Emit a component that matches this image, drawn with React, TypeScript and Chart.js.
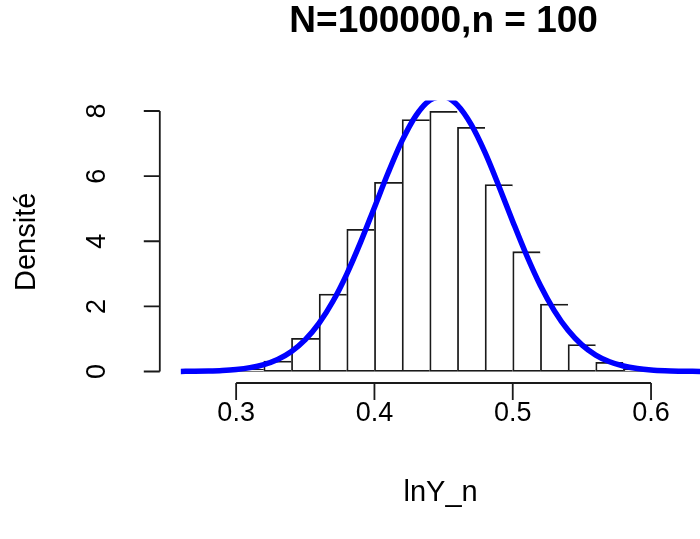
import { useEffect, useRef } from 'react';
import { Chart, registerables } from 'chart.js';

Chart.register(...registerables);

// Histogram bins (left edges) and their densities
const binStarts = [0.30, 0.32, 0.34, 0.36, 0.38, 0.40, 0.42, 0.44, 0.46, 0.48, 0.50, 0.52, 0.54, 0.56, 0.58];
const densities = [0.07, 0.32, 1.02, 2.38, 4.37, 5.81, 7.74, 7.99, 7.50, 5.74, 3.68, 2.07, 0.83, 0.28, 0.07];
const binWidth = 0.02;

// Density curve
const curveX = [0.26, 0.27, 0.28, 0.29, 0.30, 0.31, 0.32, 0.33, 0.34, 0.35, 0.36, 0.37, 0.38, 0.39, 0.40, 0.41, 0.42, 0.43, 0.44, 0.45, 0.46, 0.47, 0.48, 0.49, 0.50, 0.51, 0.52, 0.53, 0.54, 0.55, 0.56, 0.57, 0.58, 0.59, 0.60, 0.61, 0.62, 0.63, 0.64, 0.65];
const curveY = [0.003, 0.007, 0.015, 0.031, 0.062, 0.118, 0.214, 0.371, 0.616, 0.979, 1.486, 2.157, 2.993, 3.972, 5.04, 6.11, 7.09, 7.86, 8.33, 8.44, 8.18, 7.58, 6.72, 5.69, 4.61, 3.57, 2.64, 1.87, 1.265, 0.818, 0.506, 0.299, 0.169, 0.092, 0.047, 0.023, 0.011, 0.005, 0.002, 0.001];

const xTicks = [0.3, 0.4, 0.5, 0.6];
const yTicks = [0, 2, 4, 6, 8];
const titleText = 'N=100000,n = 100';
const xLabel = 'lnY_n';
const yLabel = 'Densité';

const X_MIN = 0.2448;
const X_MAX = 0.6354;
const X_CENTER = 0.45;
const Y_MIN = -0.353;
const Y_MAX = 8.32;

const FONT = '"Liberation Sans", Arial, sans-serif';
const LW = 1.8;

const rAxes = {
  id: 'rAxes',
  afterDraw(chart: any) {
    const { ctx, chartArea } = chart;
    const xs = chart.scales.x;
    const ys = chart.scales.y;
    ctx.save();
    ctx.strokeStyle = '#1a1a1a';
    ctx.fillStyle = '#000';
    ctx.lineWidth = LW;

    // x axis
    const yb = chartArea.bottom;
    const xa = xs.getPixelForValue(xTicks[0]);
    const xb = xs.getPixelForValue(xTicks[xTicks.length - 1]);
    ctx.beginPath();
    ctx.moveTo(xa, yb);
    ctx.lineTo(xb, yb);
    xTicks.forEach((t) => {
      const px = xs.getPixelForValue(t);
      ctx.moveTo(px, yb);
      ctx.lineTo(px, yb + 17);
    });
    ctx.stroke();

    ctx.font = `27px ${FONT}`;
    ctx.textAlign = 'center';
    ctx.textBaseline = 'middle';
    xTicks.forEach((t) => {
      ctx.fillText(t.toFixed(1), xs.getPixelForValue(t), yb + 31);
    });

    // y axis
    const xl = chartArea.left;
    ctx.beginPath();
    ctx.moveTo(xl, ys.getPixelForValue(yTicks[0]));
    ctx.lineTo(xl, ys.getPixelForValue(yTicks[yTicks.length - 1]));
    yTicks.forEach((t) => {
      const py = ys.getPixelForValue(t);
      ctx.moveTo(xl, py);
      ctx.lineTo(xl - 16, py);
    });
    ctx.stroke();

    yTicks.forEach((t) => {
      const py = ys.getPixelForValue(t);
      ctx.save();
      ctx.translate(xl - 62, py);
      ctx.rotate(-Math.PI / 2);
      ctx.fillText(String(t), 0, 0);
      ctx.restore();
    });

    // axis titles
    const cx = xs.getPixelForValue(X_CENTER);
    ctx.font = `29px ${FONT}`;
    ctx.fillText(xLabel, cx - 3, 493);

    const cy = ys.getPixelForValue((Y_MIN + Y_MAX) / 2);
    ctx.save();
    ctx.translate(27, cy);
    ctx.rotate(-Math.PI / 2);
    ctx.fillText(yLabel, 0, 0);
    ctx.restore();

    // main title
    ctx.font = `bold 37px ${FONT}`;
    ctx.fillText(titleText, cx, 22);

    ctx.restore();
  },
};

export default function App() {
  const ref = useRef<HTMLCanvasElement | null>(null);

  useEffect(() => {
    document.body.style.margin = '0';
    const canvas = ref.current;
    if (!canvas) return;

    const barData = binStarts.map((s, i) => ({ x: s + binWidth / 2, y: densities[i] }));
    const lineData = curveX.map((x, i) => ({ x, y: curveY[i] }));
    const last = binStarts.length - 1;

    const chart = new Chart(canvas, {
      type: 'bar',
      data: {
        datasets: [
          {
            type: 'line',
            data: lineData,
            borderColor: '#0000FF',
            borderWidth: 5.5,
            pointRadius: 0,
            fill: false,
            cubicInterpolationMode: 'monotone',
            clip: 0,
            order: 0,
          } as any,
          {
            type: 'bar',
            data: barData,
            backgroundColor: '#FFFFFF',
            borderColor: '#1a1a1a',
            borderWidth: (c: any) =>
              c.dataIndex === last
                ? { top: LW, left: LW, right: LW, bottom: LW }
                : { top: LW, left: LW, right: 0, bottom: LW },
            borderSkipped: false,
            barPercentage: 1,
            categoryPercentage: 1,
            grouped: false,
            order: 1,
          } as any,
        ],
      },
      options: {
        responsive: false,
        animation: false,
        events: [],
        layout: { padding: { left: 159.8, right: 0, top: 100.6, bottom: 156 } },
        plugins: {
          legend: { display: false },
          tooltip: { enabled: false },
          title: { display: false },
        },
        scales: {
          x: { type: 'linear', min: X_MIN, max: X_MAX, display: false, offset: false },
          y: { type: 'linear', min: Y_MIN, max: Y_MAX, display: false },
        },
      },
      plugins: [rAxes],
    });

    return () => chart.destroy();
  }, []);

  return <canvas ref={ref} width={700} height={539} style={{ display: 'block' }} />;
}
